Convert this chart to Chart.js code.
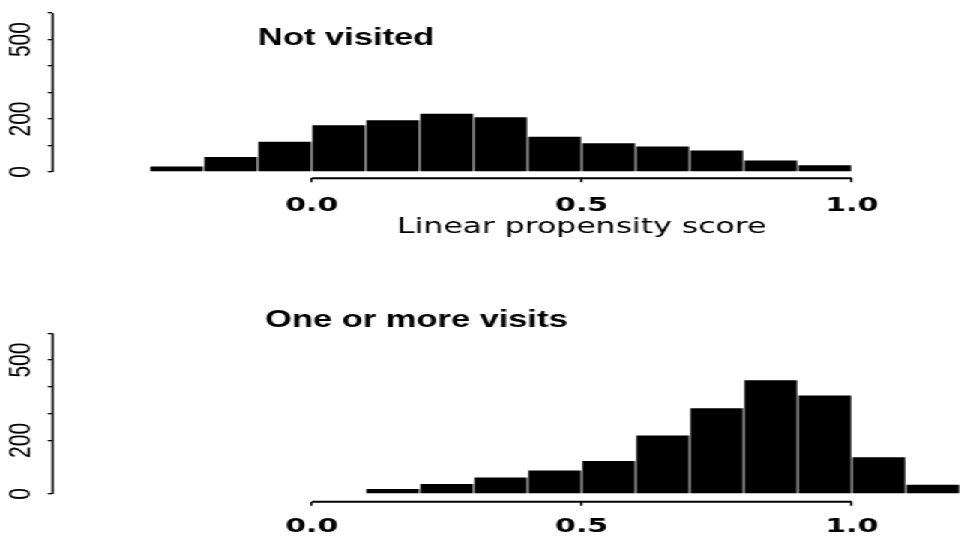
<!DOCTYPE html>
<html>
<head>
<meta charset="utf-8">
<script src="https://cdn.jsdelivr.net/npm/chart.js@4.4.1/dist/chart.umd.min.js"></script>
<style>
  html, body { margin: 0; padding: 0; background: #fff; overflow: hidden; }
  #stretch { width: 645px; height: 540px; transform: scaleX(1.4992248); transform-origin: 0 0; }
  canvas { display: block; }
</style>
</head>
<body>
<div id="stretch">
  <canvas id="topChart" width="645" height="270"></canvas>
  <canvas id="bottomChart" width="645" height="270"></canvas>
</div>
<script>
// ---------------- data ----------------
const binWidth = 0.1;
const notVisitedBinStarts = [-0.3, -0.2, -0.1, 0.0, 0.1, 0.2, 0.3, 0.4, 0.5, 0.6, 0.7, 0.8, 0.9];
const notVisitedCounts    = [21, 56, 114, 176, 195, 220, 207, 133, 108, 96, 81, 43, 25];
const visitsBinStarts     = [0.1, 0.2, 0.3, 0.4, 0.5, 0.6, 0.7, 0.8, 0.9, 1.0, 1.1];
const visitsCounts        = [18, 37, 61, 88, 123, 218, 320, 425, 368, 137, 34];
const xTickValues   = [0.0, 0.5, 1.0];
const xTickLabels   = ['0.0', '0.5', '1.0'];
const topYTickValues    = [0, 100, 200, 300, 400, 500, 600];
const bottomYTickValues = [0, 200, 300, 400, 500, 600];
const yLabelledValues   = [0, 200, 500];
const panelTitles = ['Not visited', 'One or more visits'];
const xAxisTitle  = 'Linear propensity score';

// ---------------- layout ----------------
// the reference is horizontally stretched; draw at 645px wide and stretch to 967px via CSS
const K = 967 / 645;
const X_MIN = -(311.7 - 52.7) / 540;         // value at y-axis line
const X_MAX = (967 - 311.7) / 540;           // value at right edge

function toBars(starts, counts) {
  return starts.map((s, i) => ({ x: s + binWidth / 2, y: counts[i] }));
}

const rAxesPlugin = {
  id: 'rAxes',
  afterDraw(chart, args, o) {
    const { ctx, chartArea, scales: { x, y } } = chart;
    ctx.save();
    ctx.strokeStyle = '#000';
    // y axis line (0 .. 600)
    ctx.lineWidth = 1.4;
    ctx.beginPath();
    ctx.moveTo(chartArea.left, y.getPixelForValue(o.yFrom));
    ctx.lineTo(chartArea.left, y.getPixelForValue(o.yTo));
    ctx.stroke();
    // x axis line (first .. last tick)
    ctx.lineWidth = 2;
    ctx.beginPath();
    ctx.moveTo(x.getPixelForValue(o.xFrom), chartArea.bottom);
    ctx.lineTo(x.getPixelForValue(o.xTo), chartArea.bottom);
    ctx.stroke();
    // panel title
    ctx.fillStyle = '#000';
    ctx.textBaseline = 'alphabetic';
    ctx.textAlign = 'left';
    ctx.font = 'bold 23px "Liberation Sans", Arial, sans-serif';
    ctx.fillText(o.title, o.titleX / K, o.titleY);
    // x axis title
    if (o.xTitle) {
      ctx.textAlign = 'center';
      ctx.font = '21px "DejaVu Sans", sans-serif';
      ctx.fillText(o.xTitle, x.getPixelForValue(o.xTitleAt), o.xTitleY);
    }
    ctx.restore();
  }
};

function makeChart(id, starts, counts, yTicks, cfg) {
  return new Chart(document.getElementById(id), {
    type: 'bar',
    data: {
      datasets: [{
        data: toBars(starts, counts),
        backgroundColor: '#000',
        borderWidth: 0,
        barPercentage: 0.975,
        categoryPercentage: 1.0
      }]
    },
    plugins: [rAxesPlugin],
    options: {
      responsive: false,
      animation: false,
      events: [],
      layout: { padding: { top: cfg.top, left: 0, right: 0, bottom: 0 } },
      plugins: {
        legend: { display: false },
        tooltip: { enabled: false },
        title: { display: false },
        rAxes: {
          yFrom: 0, yTo: 600,
          xFrom: xTickValues[0], xTo: xTickValues[xTickValues.length - 1],
          title: cfg.title, titleX: cfg.titleX, titleY: cfg.titleY,
          xTitle: cfg.xTitle, xTitleAt: 0.5, xTitleY: cfg.xTitleY
        }
      },
      scales: {
        x: {
          type: 'linear',
          offset: false,
          min: X_MIN,
          max: X_MAX,
          afterBuildTicks: s => { s.ticks = xTickValues.map(v => ({ value: v })); },
          afterFit: s => { s.height = 270 - cfg.axisY; },
          border: { display: false },
          grid: { display: true, drawOnChartArea: false, drawTicks: true, tickLength: 4, color: '#000', lineWidth: 1.4, offset: false },
          ticks: {
            autoSkip: false,
            maxRotation: 0,
            padding: cfg.xPad,
            color: '#000',
            font: { family: '"DejaVu Sans", sans-serif', size: 20, weight: 'bold' },
            callback: v => { const i = xTickValues.indexOf(v); return i >= 0 ? xTickLabels[i] : ''; }
          }
        },
        y: {
          min: cfg.yMin,
          max: 600,
          afterBuildTicks: s => { s.ticks = yTicks.map(v => ({ value: v })); },
          afterFit: s => { s.width = 52.7 / K; },
          border: { display: false },
          grid: { display: true, drawOnChartArea: false, drawTicks: true, tickLength: 3.3, color: '#000', lineWidth: 1.3 },
          ticks: {
            autoSkip: false,
            minRotation: 90,
            maxRotation: 90,
            crossAlign: 'center',
            padding: 0.5,
            color: '#000',
            font: { family: '"Liberation Sans", Arial, sans-serif', size: 21 },
            callback: v => yLabelledValues.includes(v) ? String(v) : ''
          }
        }
      }
    }
  });
}

makeChart('topChart', notVisitedBinStarts, notVisitedCounts, topYTickValues, {
  top: 10.7, axisY: 178.3, yMin: -24, xPad: 11.5,
  title: panelTitles[0], titleX: 258, titleY: 45,
  xTitle: xAxisTitle, xTitleY: 233
});
makeChart('bottomChart', visitsBinStarts, visitsCounts, bottomYTickValues, {
  top: 63.3, axisY: 231.7, yMin: -29, xPad: 9,
  title: panelTitles[1], titleX: 265, titleY: 57.3,
  xTitle: null, xTitleY: 0
});
</script>
</body>
</html>
